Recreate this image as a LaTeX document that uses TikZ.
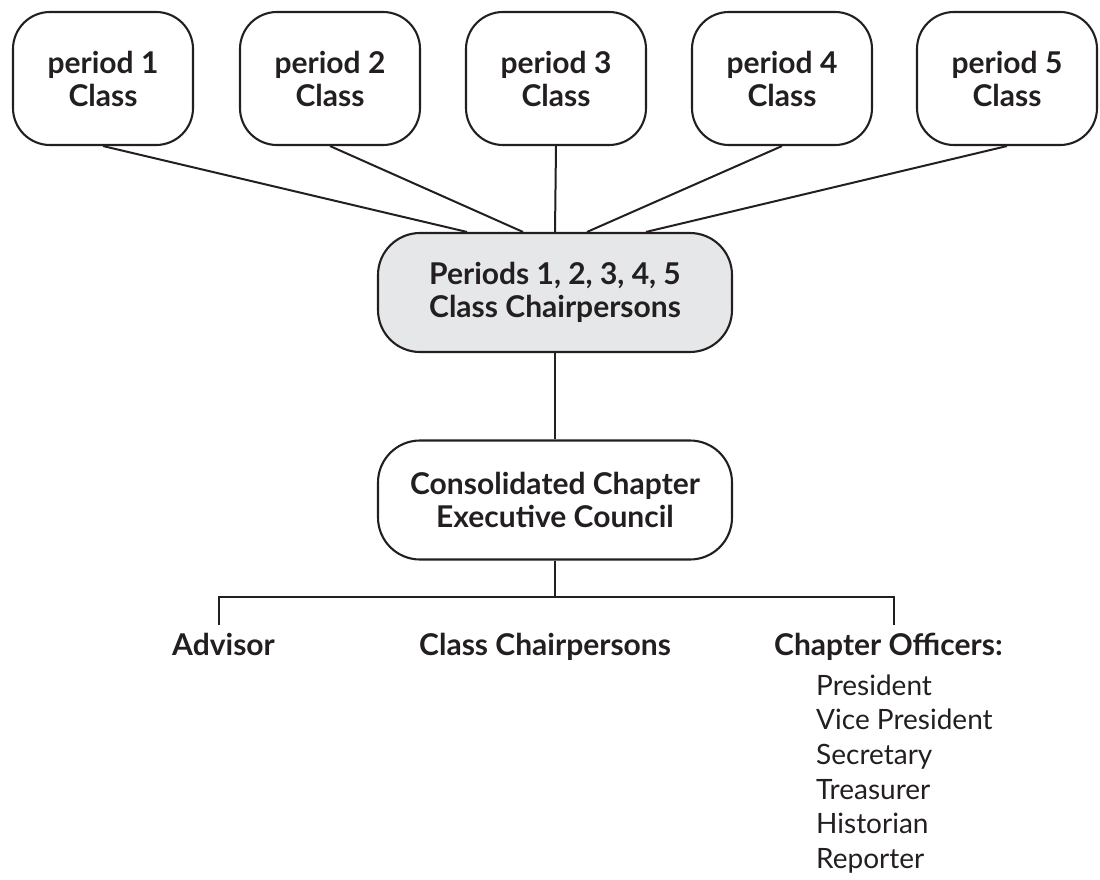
\documentclass[tikz,border=0pt]{standalone}
\usepackage{fontspec}
\setmainfont{Lato}
\definecolor{ink}{HTML}{231F20}
\definecolor{boxgray}{HTML}{E6E7E8}
\begin{document}
\begin{tikzpicture}[x=1pt,y=-1pt,
  every node/.style={text=ink},
  boldtext/.style={font=\fontsize{30}{33}\selectfont\bfseries},
  regtext/.style={font=\fontsize{28}{33}\selectfont},
  classbox/.style={boldtext, draw=ink, line width=2.1pt, rounded corners=37pt,
    minimum width=180pt, minimum height=133pt, align=center, inner sep=0pt},
  bigbox/.style={boldtext, draw=ink, line width=2.1pt, rounded corners=42pt,
    minimum width=354pt, minimum height=119pt, align=center, inner sep=0pt},
  link/.style={draw=ink, line width=2pt},
  label/.style={boldtext, anchor=base west, inner sep=0pt},
  officer/.style={regtext, anchor=base west, inner sep=0pt}
]
\useasboundingbox (0,0) rectangle (1100,880);

% top class boxes
\node[classbox] (p1) at (103,78.5) {period 1\\Class};
\node[classbox] (p2) at (330,78.5) {period 2\\Class};
\node[classbox] (p3) at (556,78.5) {period 3\\Class};
\node[classbox] (p4) at (782,78.5) {period 4\\Class};
\node[classbox] (p5) at (1007,78.5) {period 5\\Class};

% chairpersons and council
\node[bigbox, fill=boxgray] (chair) at (555,292.5) {Periods 1, 2, 3, 4, 5\\Class Chairpersons};
\node[bigbox] (council) at (555,500) {Consolidated Chapter\\Executive Council};

% connectors from classes
\draw[link] (p1.south) -- ([xshift=-88pt]chair.north);
\draw[link] (p2.south) -- ([xshift=-32pt]chair.north);
\draw[link] (p3.south) -- (chair.north);
\draw[link] (p4.south) -- ([xshift=32pt]chair.north);
\draw[link] (p5.south) -- ([xshift=91pt]chair.north);
\draw[link] (chair.south) -- (council.north);

% bottom tree
\coordinate (bar) at (555,597);
\coordinate (barL) at (219,597);
\coordinate (barR) at (894,597);
\coordinate (dropL) at (219,624);
\coordinate (dropR) at (894,624);
\draw[link] (council.south) -- (bar);
\draw[link, line cap=rect] (dropL) -- (barL) -- (barR) -- (dropR);

\node[label] (adv) at (172,655) {Advisor};
\node[label] (cc) at (419,655) {Class Chairpersons};
\node[label] (co) at (774,655) {Chapter Officers:};

\node[officer] (o1) at (816,695) {President};
\node[officer] (o2) at (816,729.7) {Vice President};
\node[officer] (o3) at (816,764.4) {Secretary};
\node[officer] (o4) at (816,799.1) {Treasurer};
\node[officer] (o5) at (816,833.8) {Historian};
\node[officer] (o6) at (816,868.5) {Reporter};
\end{tikzpicture}
\end{document}
